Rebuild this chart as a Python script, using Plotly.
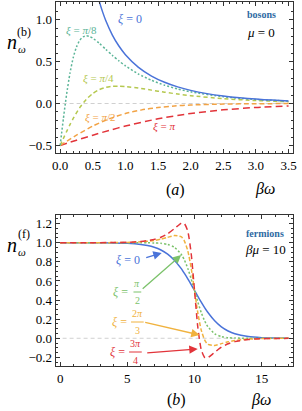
import plotly.graph_objects as go

W, H = 302, 411

# ---------------- top panel: bosons, mu = 0 ----------------
xb0 = [0.5, 0.55, 0.6, 0.65, 0.7, 0.8, 0.9, 1.0, 1.2, 1.4, 1.6, 1.8, 2.0, 2.25, 2.5, 2.75, 3.0, 3.25, 3.5]
nb_xi0 = [1.54149, 1.36379, 1.21637, 1.09225, 0.98643, 0.81597, 0.68512, 0.58198, 0.43101, 0.32731,
          0.25297, 0.19803, 0.15652, 0.11782, 0.08943, 0.06829, 0.05240, 0.04034, 0.03114]

xb1 = [0, 0.025, 0.05, 0.075, 0.1, 0.15, 0.2, 0.25, 0.3, 0.35, 0.4, 0.45, 0.5, 0.6, 0.7, 0.8, 0.9, 1.0,
       1.2, 1.4, 1.6, 1.8, 2.0, 2.5, 3.0, 3.5]
nb_xi_pi8 = [-0.5, -0.33644, -0.17675, -0.02448, 0.11736, 0.36143, 0.54657, 0.67456, 0.75358, 0.79418,
             0.80653, 0.79919, 0.77879, 0.71692, 0.64490, 0.57374, 0.50796, 0.44897,
             0.35109, 0.27599, 0.21831, 0.17370, 0.13891, 0.08081, 0.04780, 0.02855]

xb2 = [0, 0.05, 0.1, 0.15, 0.2, 0.3, 0.4, 0.5, 0.6, 0.7, 0.8, 0.9, 1.0, 1.2, 1.4, 1.6, 1.8, 2.0, 2.5, 3.0, 3.5]
nb_xi_pi4 = [-0.5, -0.41497, -0.33188, -0.25250, -0.17834, -0.04984, 0.04918, 0.11959, 0.16546, 0.19206,
             0.20448, 0.20699, 0.20290, 0.18391, 0.15948, 0.13506, 0.11286, 0.09358, 0.05760, 0.03511, 0.02133]

xb3 = [0, 0.25, 0.5, 0.75, 1.0, 1.25, 1.5, 1.75, 2.0, 2.5, 3.0, 3.5]
nb_xi_pi2 = [-0.5, -0.37754, -0.26894, -0.18243, -0.11920, -0.07586, -0.04743, -0.02931, -0.01799,
             -0.00669, -0.00247, -0.00091]

xb4 = [0, 0.25, 0.5, 0.75, 1.0, 1.5, 2.0, 2.5, 3.0, 3.5]
nb_xi_pi = [-0.5, -0.43782, -0.37754, -0.32082, -0.26894, -0.18243, -0.11920, -0.07586, -0.04743, -0.02931]

# ---------------- bottom panel: fermions, beta*mu = 10 ----------------
xf = [0, 2, 4, 5, 6, 6.5, 7, 7.5, 8, 8.5, 9, 9.1, 9.25, 9.5, 9.75, 10, 10.25, 10.5, 10.75, 10.9, 11,
      11.5, 12, 12.5, 13, 14, 15, 16, 17]
nf_xi0 = [1.0, 0.99966, 0.99753, 0.99331, 0.98201, 0.97069, 0.95257, 0.92414, 0.88080, 0.81757, 0.73106,
          0.71095, 0.67918, 0.62246, 0.56218, 0.5, 0.43782, 0.37754, 0.32082, 0.28905, 0.26894,
          0.18243, 0.11920, 0.07586, 0.04743, 0.01799, 0.00669, 0.00247, 0.00091]
nf_xi_pi2 = [1.0, 1.0, 0.99999, 0.99995, 0.99967, 0.99909, 0.99753, 0.99331, 0.98201, 0.95257, 0.88080,
             0.85815, 0.81757, 0.73106, 0.62246, 0.5, 0.37754, 0.26894, 0.18243, 0.14185, 0.11920,
             0.04743, 0.01799, 0.00669, 0.00247, 0.00034, 0.00005, 0.0, 0.0]
nf_xi_2pi3 = [1.0, 1.00017, 1.00124, 1.00335, 1.00898, 1.01462, 1.02353, 1.03710, 1.05589, 1.07473, 1.06333,
              1.05007, 1.01739, 0.91513, 0.73768, 0.5, 0.26232, 0.08487, -0.01739, -0.05007, -0.06333,
              -0.07473, -0.05589, -0.03710, -0.02353, -0.00898, -0.00335, -0.00124, -0.00046]
nf_xi_3pi4 = [1.0, 1.00024, 1.00175, 1.00477, 1.01295, 1.02133, 1.03511, 1.05760, 1.09357, 1.14708, 1.20290,
              1.20700, 1.19976, 1.11960, 0.88947, 0.5, 0.11053, -0.11959, -0.19976, -0.20699, -0.20289,
              -0.14708, -0.09357, -0.05760, -0.03511, -0.01295, -0.00477, -0.00175, -0.00064]

BLUE = '#4a73d9'
TEAL = '#5cb598'
YGREEN = '#b5c84f'
ORANGE = '#f2a345'
RED = '#e2343a'
GREEN = '#7bc26a'
GOLD = '#f0b23e'
SERIF = 'Liberation Serif'

fig = go.Figure()

def add(x, y, color, dash, ax):
    fig.add_trace(go.Scatter(x=x, y=y, mode='lines', xaxis='x' if ax == 1 else 'x2',
                             yaxis='y' if ax == 1 else 'y2',
                             line=dict(color=color, width=1.5, dash=dash, shape='spline', smoothing=0.6),
                             showlegend=False, hoverinfo='skip'))

add(xb4, nb_xi_pi, RED, '7px,4px', 1)
add(xb3, nb_xi_pi2, ORANGE, '5px,3px', 1)
add(xb2, nb_xi_pi4, YGREEN, '4px,3px', 1)
add(xb1, nb_xi_pi8, TEAL, '2px,2px', 1)
add(xb0, nb_xi0, BLUE, 'solid', 1)

add(xf, nf_xi0, BLUE, 'solid', 2)
add(xf, nf_xi_pi2, GREEN, '2px,2px', 2)
add(xf, nf_xi_2pi3, GOLD, '4px,2px', 2)
add(xf, nf_xi_3pi4, RED, '6px,4px', 2)

xdom = [53 / W, 297 / W]
axis_common = dict(showline=True, linecolor='#333', linewidth=1, mirror='ticks', ticks='inside',
                   ticklen=4, tickwidth=1, tickcolor='#333', showgrid=False, zeroline=False,
                   tickfont=dict(family=SERIF, size=13, color='black'))

fig.update_layout(
    width=W, height=H, margin=dict(l=0, r=0, t=0, b=0),
    paper_bgcolor='white', plot_bgcolor='white',
    font=dict(family=SERIF),
    xaxis=dict(domain=xdom, range=[-0.07, 3.57], anchor='y', tickvals=[0, 0.5, 1, 1.5, 2, 2.5, 3, 3.5],
               tickformat='.1f', minor=dict(dtick=0.1, ticks='inside', ticklen=2, tickcolor='#333'),
               **axis_common),
    yaxis=dict(domain=[1 - 153 / H, 1 - 2 / H], range=[-0.59, 1.21], anchor='x',
               tickvals=[-0.5, 0, 0.5, 1.0], tickformat='.1f',
               minor=dict(dtick=0.1, ticks='inside', ticklen=2, tickcolor='#333'), **axis_common),
    xaxis2=dict(domain=xdom, range=[-0.34, 17.34], anchor='y2', tickvals=[0, 5, 10, 15],
                minor=dict(dtick=1, ticks='inside', ticklen=2, tickcolor='#333'), **axis_common),
    yaxis2=dict(domain=[1 - 366 / H, 1 - 215 / H], range=[-0.29, 1.29], anchor='x2',
                tickvals=[-0.2, 0, 0.2, 0.4, 0.6, 0.8, 1.0, 1.2], tickformat='.1f',
                minor=dict(dtick=0.05, ticks='inside', ticklen=2, tickcolor='#333'), **axis_common),
)

# zero reference lines
for xr, yr in (('x domain', 'y'), ('x2 domain', 'y2')):
    fig.add_shape(type='line', xref=xr, yref=yr, x0=0, x1=1, y0=0, y1=0,
                  line=dict(color='#d0d0d0', width=1, dash='4px,3px'), layer='below')

def P(px, py):
    return px / W, 1 - py / H

def label(px, py, text, size=12, color='black', xanchor='center'):
    x, y = P(px, py)
    fig.add_annotation(x=x, y=y, xref='paper', yref='paper', text=text, showarrow=False,
                       xanchor=xanchor, yanchor='middle',
                       font=dict(family=SERIF, size=size, color=color))

# axis titles
label(8, 42, '<i>n</i>', 20)
label(21, 32, '(b)', 12)
label(18, 49, '<i>ω</i>', 11)
label(8, 245, '<i>n</i>', 20)
label(21, 234, '(f)', 12)
label(18, 252, '<i>ω</i>', 11)
label(176, 190, '(<i>a</i>)', 16)
label(268, 189, '<i>βω</i>', 16)
label(177, 400, '(<i>b</i>)', 16)
label(264, 400, '<i>βω</i>', 16)

# top panel labels
label(129, 19, '<i>ξ</i> = 0', 12, BLUE)
label(80, 30, '<i>ξ</i> = <i>π</i>/8', 11, TEAL)
label(97, 78, '<i>ξ</i> = <i>π</i>/4', 11, YGREEN)
label(99, 118, '<i>ξ</i> = <i>π</i>/2', 11, ORANGE)
label(164, 127, '<i>ξ</i> = <i>π</i>', 11, RED)
label(264, 15, '<b>bosons</b>', 10, '#2e6aa3')
label(264, 32, '<i>μ</i> = 0', 13)

# bottom panel labels
label(268, 233, '<b>fermions</b>', 10, '#2e6aa3')
label(269, 249, '<i>βμ</i> = 10', 13)
label(127, 260, '<i>ξ</i> = 0', 12, BLUE)

def frac_label(cx, cy, fx, num, den, color, bar_half=5):
    label(cx, cy, '<i>ξ</i> =', 12, color)
    label(fx, cy - 9, num, 10, color)
    label(fx, cy + 8.5, den, 10, color)
    x0, y0 = P(fx - bar_half, cy)
    x1, _ = P(fx + bar_half, cy)
    fig.add_shape(type='line', xref='paper', yref='paper', x0=x0, x1=x1, y0=y0, y1=y0,
                  line=dict(color=color, width=1))

frac_label(120, 292, 137, '<i>π</i>', '2', GREEN, 4)
frac_label(119, 322, 137, '2<i>π</i>', '3', GOLD, 6.5)
frac_label(117, 352, 135, '3<i>π</i>', '4', RED, 6.5)

def arrow(hx, hy, tx, ty, color):
    x, y = P(hx, hy)
    fig.add_annotation(x=x, y=y, xref='paper', yref='paper', ax=tx - hx, ay=ty - hy,
                       axref='pixel', ayref='pixel', showarrow=True, arrowhead=2, arrowsize=1.3,
                       arrowwidth=1.3, arrowcolor=color, text='')

arrow(162, 253, 145, 258, BLUE)
arrow(182, 255, 142, 290, GREEN)
arrow(201, 335, 145, 322, GOLD)
arrow(199, 349, 147, 353, RED)

fig.write_html('out.html', config={'displayModeBar': False},
               post_script="document.body.style.margin='0';document.body.style.overflow='hidden';")
